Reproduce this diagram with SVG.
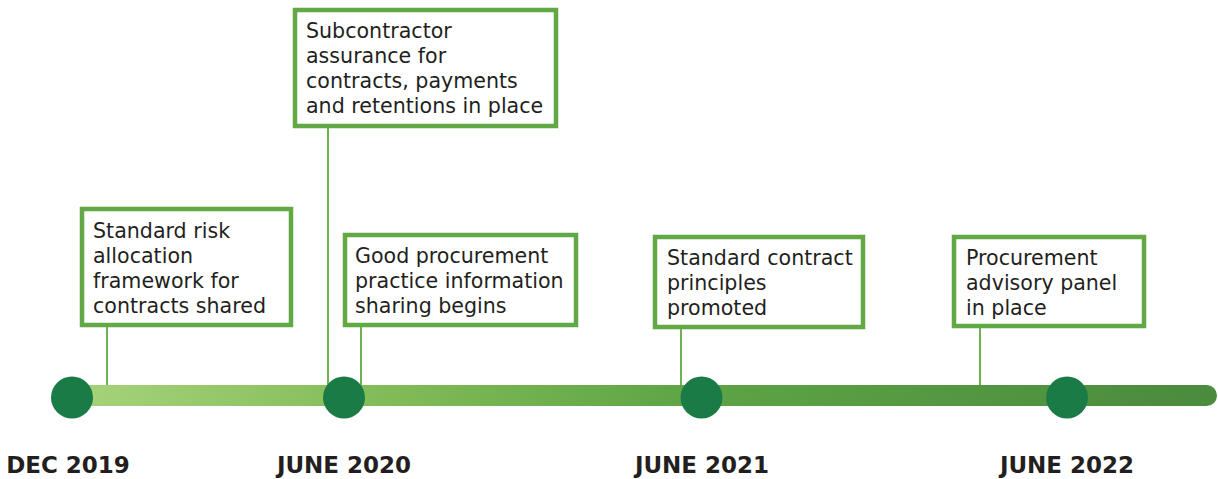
<svg xmlns="http://www.w3.org/2000/svg" width="1218" height="479" viewBox="0 0 1218 479">
  <style>
    .box { fill: #ffffff; stroke: #62a844; stroke-width: 4.5; }
    .txt { font-family: "DejaVu Sans", "Liberation Sans", sans-serif; font-size: 20.6px; fill: #231f20; }
    .date { font-family: "DejaVu Sans", "Liberation Sans", sans-serif; font-size: 23px; font-weight: bold; fill: #231f20; text-anchor: middle; }
    .conn { stroke: #6cb24f; stroke-width: 2; fill: none; }
    .dot { fill: #1b7b46; }
  </style>
  <defs>
    <linearGradient id="barGrad" x1="60" y1="0" x2="1217" y2="0" gradientUnits="userSpaceOnUse">
      <stop offset="0" stop-color="#a8d47c"/>
      <stop offset="0.3" stop-color="#7fba56"/>
      <stop offset="0.55" stop-color="#5da445"/>
      <stop offset="1" stop-color="#4a8b3d"/>
    </linearGradient>
  </defs>
  <rect width="1218" height="479" fill="#ffffff"/>

  <g id="connectors">
    <line class="conn" x1="107" y1="327" x2="107" y2="400"/>
    <line class="conn" x1="328" y1="128" x2="328" y2="400"/>
    <line class="conn" x1="361" y1="327" x2="361" y2="400"/>
    <line class="conn" x1="681" y1="329" x2="681" y2="400"/>
    <line class="conn" x1="980" y1="328" x2="980" y2="400"/>
  </g>

  <g id="timeline-bar">
    <rect x="60" y="385" width="1157" height="21" rx="10.5" fill="url(#barGrad)"/>
  </g>

  <g id="milestone-dec-2019">
    <circle class="dot" cx="72" cy="397.5" r="21"/>
    <text class="date" x="68" y="473">DEC 2019</text>
  </g>
  <g id="milestone-june-2020">
    <circle class="dot" cx="344" cy="397.5" r="21"/>
    <text class="date" x="344" y="473">JUNE 2020</text>
  </g>
  <g id="milestone-june-2021">
    <circle class="dot" cx="701.5" cy="397.5" r="21"/>
    <text class="date" x="702" y="473">JUNE 2021</text>
  </g>
  <g id="milestone-june-2022">
    <circle class="dot" cx="1067" cy="397.5" r="21"/>
    <text class="date" x="1067" y="473">JUNE 2022</text>
  </g>

  <g id="box-risk-allocation">
    <rect class="box" x="82" y="209" width="209" height="116"/>
    <text class="txt" x="93" y="238">Standard risk</text>
    <text class="txt" x="93" y="263">allocation</text>
    <text class="txt" x="93" y="288">framework for</text>
    <text class="txt" x="93" y="313">contracts shared</text>
  </g>

  <g id="box-subcontractor">
    <rect class="box" x="295" y="10" width="261" height="116"/>
    <text class="txt" x="306" y="38">Subcontractor</text>
    <text class="txt" x="306" y="63">assurance for</text>
    <text class="txt" x="306" y="88">contracts, payments</text>
    <text class="txt" x="306" y="113">and retentions in place</text>
  </g>

  <g id="box-good-procurement">
    <rect class="box" x="345" y="235" width="231" height="90"/>
    <text class="txt" x="355" y="263">Good procurement</text>
    <text class="txt" x="355" y="288">practice information</text>
    <text class="txt" x="355" y="313">sharing begins</text>
  </g>

  <g id="box-contract-principles">
    <rect class="box" x="655" y="237" width="208" height="90"/>
    <text class="txt" x="667" y="265">Standard contract</text>
    <text class="txt" x="667" y="290">principles</text>
    <text class="txt" x="667" y="315">promoted</text>
  </g>

  <g id="box-advisory-panel">
    <rect class="box" x="954" y="237" width="190" height="89"/>
    <text class="txt" x="966" y="265">Procurement</text>
    <text class="txt" x="966" y="290">advisory panel</text>
    <text class="txt" x="966" y="315">in place</text>
  </g>
</svg>
